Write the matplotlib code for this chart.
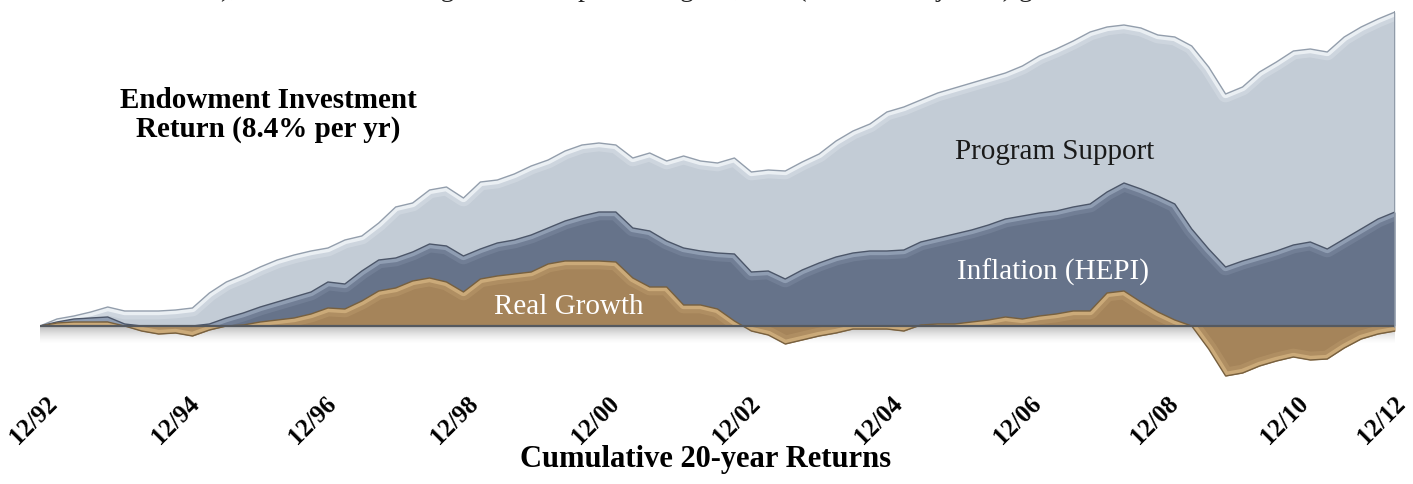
import numpy as np
import matplotlib
matplotlib.use('Agg')
import matplotlib.pyplot as plt

# quarterly cumulative growth index, 12/92 .. 12/12 (81 quarters)
quarters = np.arange(81)

total_return = [
    0, 7, 10, 14, 19, 15, 15, 15, 16, 18,
    33, 44, 51, 59, 66, 71, 75, 78, 86, 90,
    103, 119, 123, 136, 139, 128, 144, 146, 152, 160,
    166, 175, 181, 183, 181, 168, 173, 165, 170, 165,
    163, 168, 154, 156, 155, 164, 172, 185, 195, 202,
    214, 219, 226, 233, 238, 243, 248, 253, 260, 270,
    277, 285, 294, 299, 301, 298, 291, 289, 280, 259,
    232, 239, 254, 264, 275, 277, 274, 289, 299, 307,
    314,
]

inflation_band = [
    0, 4, 7, 8, 9, 2, 0, 0, 0, 0,
    2, 8, 13, 19, 24, 29, 34, 44, 42, 55,
    66, 68, 74, 82, 80, 70, 77, 83, 86, 91,
    98, 105, 110, 114, 114, 98, 95, 85, 78, 75,
    73, 72, 54, 55, 47, 56, 63, 69, 73, 75,
    75, 76, 84, 88, 92, 96, 101, 107, 110, 113,
    115, 119, 122, 134, 143, 137, 130, 122, 97, 77,
    59, 65, 70, 75, 81, 84, 77, 87, 97, 107,
    114,
]

real_growth = [
    0, 3, 4, 4, 4, 0, -5, -8, -7, -10,
    -4, 0, 1, 4, 6, 8, 12, 18, 17, 25,
    35, 38, 45, 48, 44, 34, 47, 50, 52, 54,
    62, 65, 65, 65, 64, 48, 39, 39, 21, 21,
    17, 5, -5, -9, -18, -14, -10, -7, -3, -3,
    -3, -5, 1, 2, 2, 4, 6, 9, 7, 10,
    12, 15, 15, 33, 35, 24, 14, 6, 0, -23,
    -50, -47, -40, -35, -31, -34, -33, -22, -13, -8,
    -5,
]

tick_pos = [-0.4, 8.0, 16.1, 24.5, 32.8, 41.1, 49.5, 57.7, 65.8, 73.5, 79.2]
tick_labels = ['12/92', '12/94', '12/96', '12/98', '12/00', '12/02',
               '12/04', '12/06', '12/08', '12/10', '12/12']

SERIF = 'Liberation Serif'

fig = plt.figure(figsize=(14.13, 4.85), dpi=100)
ax = fig.add_axes([40 / 1413, 1 - 387 / 485, 1355 / 1413, 380 / 485])


def emboss(y, face, edge, light, z):
    y = np.asarray(y, dtype=float)
    poly = ax.fill_between(quarters, 0, y, color=face, lw=0, zorder=z)
    clip = poly.get_paths()[0]
    for lw, a in [(12, 0.25), (6, 0.9)]:
        hl, = ax.plot(quarters, y, color=light, lw=lw, alpha=a, zorder=z)
        hl.set_clip_path(clip, ax.transData)
    ax.plot(quarters, y, color=edge, lw=1.0, zorder=z)


# soft drop shadow under the baseline
grad = np.zeros((60, 1, 4))
grad[..., :3] = 0.35
grad[:, 0, 3] = np.linspace(0.55, 0.0, 60) ** 1.5
ax.imshow(grad, extent=(-0.5, 80.3, -18, 0), aspect='auto', zorder=0.5,
          interpolation='bilinear')

emboss(total_return, '#c3ccd6', '#939eac', '#eef2f6', 1)
emboss(inflation_band, '#66738a', '#4c5669', '#93a1b6', 2)
emboss(real_growth, '#a5845a', '#77603f', '#cfae7c', 3)

# baseline and right-hand edge
ax.plot([0, 80], [0, 0], color='#55595f', lw=1.6, zorder=4)
ax.plot([80, 80], [0, total_return[-1]], color='#8c96a3', lw=2.0, zorder=4)

ax.set_xlim(0, 80)
ax.set_ylim(-60, 320)
ax.axis('off')

for pos, lab in zip(tick_pos, tick_labels):
    ax.text(pos, -93, lab, rotation=45, ha='center', va='center',
            family=SERIF, fontsize=18, fontweight='bold', clip_on=False)

ax.text(13.5, 212, 'Endowment Investment\nReturn (8.4% per yr)',
        ha='center', va='center', family=SERIF, fontsize=21,
        fontweight='bold', linespacing=1.1, zorder=6)
ax.text(59.9, 175, 'Program Support', ha='center', va='center',
        family=SERIF, fontsize=21, color='#1a1a1a', zorder=6)
ax.text(59.8, 55, 'Inflation (HEPI)', ha='center', va='center',
        family=SERIF, fontsize=21, color='white', zorder=6)
ax.text(31.2, 20, 'Real Growth', ha='center', va='center',
        family=SERIF, fontsize=21, color='white', zorder=6)

fig.text(706 / 1413, 1 - 460 / 485, 'Cumulative 20-year Returns',
         ha='center', va='center', family=SERIF, fontsize=22,
         fontweight='bold')

# last line of the preceding paragraph, running off the top edge
fig.text(-4 / 1413, 1 + 4 / 485,
         'of December [2012]), with the remaining residual representing the, '
         'real (inflation-adjusted) growth.',
         ha='left', va='baseline', family=SERIF, fontsize=20, color='#222222')

fig.savefig('out.png', dpi=100)
